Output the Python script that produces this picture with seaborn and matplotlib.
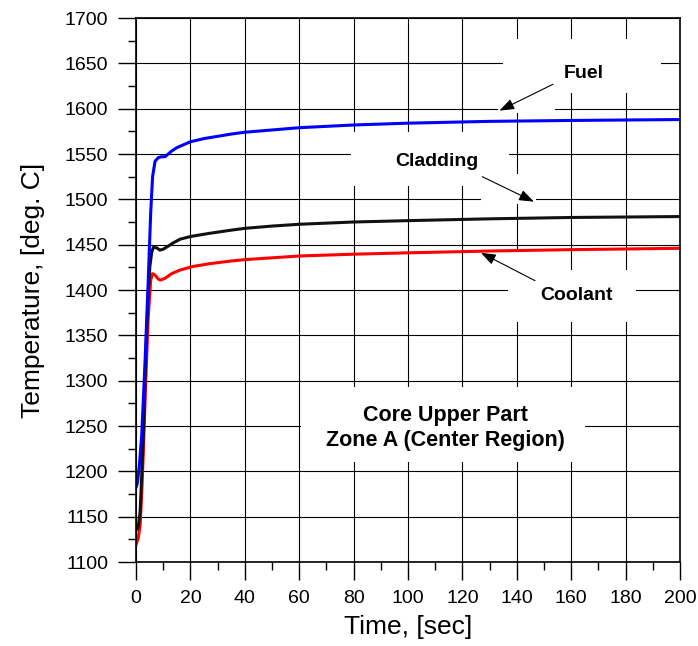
import numpy as np
import pandas as pd
import matplotlib
matplotlib.use('Agg')
import matplotlib.pyplot as plt
from matplotlib.patches import Rectangle
from matplotlib.ticker import MultipleLocator
import seaborn as sns

# ----------------------------------------------------------------------
# Data
# ----------------------------------------------------------------------
fuel_time = [0, 0.5, 1.2, 2.1, 3.3, 4.5, 5.4, 6.1, 7.0, 8.2, 9.4, 10.7, 13.0,
             15.0, 20, 25, 30, 35, 40, 50, 60, 80, 100, 130, 160, 200]
fuel_temp = [1182, 1187, 1205, 1240, 1319, 1411, 1485, 1525, 1542, 1546, 1547,
             1547, 1553, 1557, 1563.5, 1567, 1569.5, 1572, 1574, 1576.5, 1579,
             1582, 1584, 1586, 1587, 1588]

clad_time = [0, 0.8, 1.5, 2.1, 2.7, 3.3, 3.9, 4.5, 5.1, 5.8, 6.4, 7.6, 8.8,
             10, 11.9, 13.7, 16.2, 20, 27, 35, 40, 50, 60, 80, 100, 130, 160, 200]
clad_temp = [1135, 1138, 1155, 1195, 1240, 1301, 1352, 1396, 1426, 1442, 1447,
             1446.5, 1444, 1445, 1448.5, 1452, 1456, 1459, 1462.5, 1466, 1468,
             1470.5, 1472.5, 1475, 1476.5, 1478.5, 1480, 1481]

cool_time = [0, 0.8, 1.5, 2.1, 2.7, 3.3, 3.9, 4.5, 5.4, 6.1, 7.0, 8.2, 9.1,
             10.7, 13.1, 16.2, 21, 27, 35, 40, 50, 60, 80, 100, 130, 160, 200]
cool_temp = [1119, 1126, 1140, 1175, 1222, 1275, 1325, 1370, 1411, 1418, 1416.5,
             1412, 1411, 1413, 1418, 1422, 1426, 1429, 1432, 1433.5, 1435.5,
             1437.5, 1439.5, 1441, 1443, 1444.5, 1446]

X_TICKS = list(range(0, 201, 20))
Y_TICKS = list(range(1100, 1701, 50))

# label text, text anchor (baseline), white box (x0, x1, y0, y1), arrow tail, arrow head
LABELS = [
    ('Fuel', (164.7, 1633.5), (134.9, 193.0, 1617.3, 1676.8), (153.3, 1626.9), (133.6, 1597.8)),
    ('Cladding', (110.5, 1537.0), (78.9, 137.1, 1514.7, 1574.3), (127.3, 1525.0), (146.3, 1497.4)),
    ('Coolant', (161.9, 1389.0), (136.8, 183.8, 1364.7, 1422.1), (146.7, 1410.3), (126.8, 1441.1)),
]
CORE_BOX = (60.5, 165.1, 1210, 1293)


def white_box(ax, x0, x1, y0, y1):
    ax.add_patch(Rectangle((x0, y0), x1 - x0, y1 - y0, facecolor='white',
                           edgecolor='none', zorder=1.7))


def main():
    sns.set_style('ticks')
    plt.rcParams['font.family'] = ['Liberation Sans', 'DejaVu Sans']
    for key in ['text.color', 'axes.labelcolor', 'xtick.color', 'ytick.color']:
        plt.rcParams[key] = 'black'

    fig = plt.figure(figsize=(6.98, 6.46), dpi=100)
    ax = fig.add_axes([136 / 698, 1 - 562 / 646, 544 / 698, 544 / 646])

    series = [
        (fuel_time, fuel_temp, '#0000ff'),
        (clad_time, clad_temp, '#111111'),
        (cool_time, cool_temp, '#ff0000'),
    ]
    # draw red first so black overlaps in the steep rise
    for t, v, c in reversed(series):
        df = pd.DataFrame({'Time': t, 'Temp': v})
        sns.lineplot(data=df, x='Time', y='Temp', ax=ax, color=c, lw=2.2,
                     estimator=None, sort=False, zorder=2)

    ax.set_xlim(0, 200)
    ax.set_ylim(1100, 1700)
    ax.set_xticks(X_TICKS)
    ax.set_yticks(Y_TICKS)
    ax.xaxis.set_minor_locator(MultipleLocator(10))
    ax.yaxis.set_minor_locator(MultipleLocator(25))
    ax.tick_params(which='major', direction='out', length=13, width=1,
                   labelsize=14, pad=7, color='black', labelcolor='black')
    ax.tick_params(which='minor', direction='out', length=6, width=1, color='black')
    ax.grid(True, which='major', color='black', lw=0.8)
    for sp in ax.spines.values():
        sp.set_linewidth(1.2)
        sp.set_color('black')

    ax.set_xlabel('Time, [sec]', fontsize=19, labelpad=6, color='black')
    ax.set_ylabel('Temperature, [deg. C]', fontsize=19, labelpad=14, color='black')

    # white boxes behind labels and arrows, cutting the grid like the original
    for text, (tx, ty), box, tail, head in LABELS:
        white_box(ax, *box)
        white_box(ax, min(tail[0], head[0]) - 0.6, max(tail[0], head[0]) + 0.6,
                  min(tail[1], head[1]) - 2.5, max(tail[1], head[1]) + 2.5)
        ax.text(tx, ty, text, ha='center', va='baseline', fontsize=14,
                fontweight='bold', color='black', zorder=4)
        ax.annotate('', xy=head, xytext=tail, zorder=4,
                    arrowprops=dict(arrowstyle='-|>,head_length=0.6,head_width=0.22',
                                    color='black', lw=0.8, shrinkA=0, shrinkB=0,
                                    mutation_scale=15))

    white_box(ax, *CORE_BOX)
    ax.text(113.6, 1256, 'Core Upper Part', ha='center', va='baseline',
            fontsize=15.5, fontweight='bold', color='black', zorder=4)
    ax.text(113.6, 1228, 'Zone A (Center Region)', ha='center', va='baseline',
            fontsize=15.5, fontweight='bold', color='black', zorder=4)

    fig.savefig('out.png', dpi=100)


if __name__ == '__main__':
    main()
